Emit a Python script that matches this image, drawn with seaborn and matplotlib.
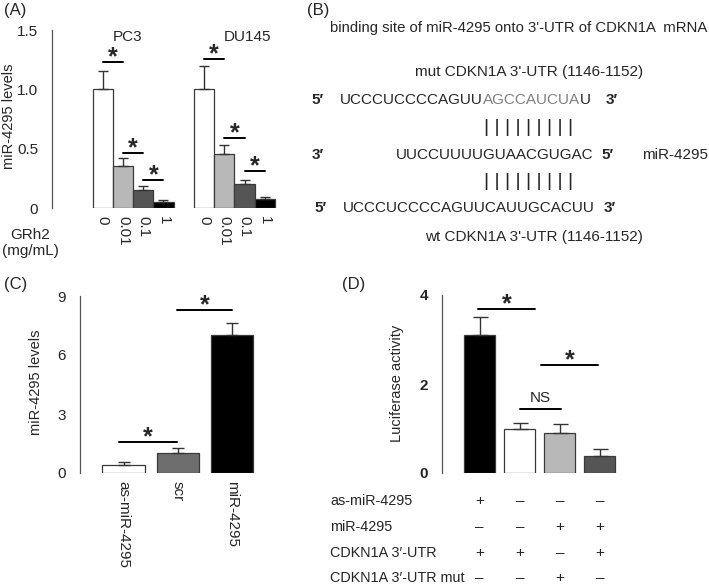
import matplotlib
matplotlib.use("Agg")
import matplotlib.pyplot as plt
import matplotlib.transforms as mtransforms
import numpy as np
import pandas as pd
import seaborn as sns

# ----------------------------------------------
# Data
# ----------------------------------------------

# (A) miR-4295 levels after GRh2 treatment
a_doses = ["0", "0.01", "0.1", "1"]
a_pc3 = [1.0, 0.355, 0.152, 0.05]
a_pc3_err = [0.154, 0.065, 0.03, 0.017]
a_du145 = [1.0, 0.455, 0.20, 0.078]
a_du145_err = [0.20, 0.075, 0.036, 0.017]
a_colors = {"0": "white", "0.01": "#b8b8b8", "0.1": "#555555", "1": "black"}
# significance brackets (x1, x2, y)
a_sig = [(0, 1, 1.23), (1, 2, 0.46), (2, 3, 0.236),
         (5, 6, 1.255), (6, 7, 0.59), (7, 8, 0.31)]

# (C) miR-4295 levels after transfection
c_groups = ["as-miR-4295", "scr", "miR-4295"]
c_vals = [0.42, 1.0, 7.04]
c_err = [0.12, 0.25, 0.59]
c_colors = {"as-miR-4295": "white", "scr": "#6e6e6e", "miR-4295": "black"}
c_sig = [(-0.08, 0.99, 1.59), (0.99, 2.0, 8.3)]

# (D) luciferase activity
d_groups = ["g1", "g2", "g3", "g4"]
d_vals = [3.1, 0.99, 0.89, 0.39]
d_err = [0.41, 0.14, 0.2, 0.14]
d_colors = {"g1": "black", "g2": "white", "g3": "#b8b8b8", "g4": "#555555"}
d_sig = [(-0.04, 1.39, 3.69, "*"), (1.0, 2.04, 1.43, "NS"), (1.54, 2.94, 2.43, "*")]
d_rows = ["as-miR-4295", "miR-4295", "CDKN1A 3′-UTR", "CDKN1A 3′-UTR mut"]
d_signs = [["+", "–", "–", "–"],
           ["–", "–", "+", "+"],
           ["+", "+", "–", "+"],
           ["–", "–", "+", "–"]]

# ----------------------------------------------
# Figure setup
# ----------------------------------------------
sns.set_theme(style="white")
plt.rcParams["font.family"] = ["Liberation Sans", "DejaVu Sans"]

W, H = 709, 584
fig = plt.figure(figsize=(W / 100, H / 100), dpi=100)


def rect(l, t, r, b):
    return [l / W, 1 - b / H, (r - l) / W, (b - t) / H]


# invisible pixel canvas for free text
canvas = fig.add_axes([0, 0, 1, 1])
canvas.set_xlim(0, W)
canvas.set_ylim(H, 0)
canvas.axis("off")

EDGE = "#3a3a3a"
FS = 11


def style(ax, ymax, ticks, labels, bold=False):
    sns.despine(ax=ax, bottom=True)
    ax.spines["left"].set_color("#555555")
    ax.spines["left"].set_linewidth(0.9)
    ax.set_ylim(0, ymax)
    ax.set_yticks(ticks, labels, fontweight="bold" if bold else "normal")
    ax.tick_params(axis="y", length=5, width=0.9, color="#555555", pad=5, labelsize=FS)
    ax.tick_params(axis="x", length=0, pad=6, labelsize=FS)
    ax.set_xlabel("")
    ax.set_ylabel("")


def bracket(ax, x1, x2, y, text="*"):
    ax.plot([x1, x2], [y, y], color="black", lw=1.4, clip_on=False)
    if text == "*":
        ax.annotate(text, xy=((x1 + x2) / 2, y), xytext=(0, -1.5), textcoords="offset points",
                    ha="center", va="baseline", fontsize=18, fontweight="bold")
    else:
        ax.annotate(text, xy=((x1 + x2) / 2, y), xytext=(0, 3), textcoords="offset points",
                    ha="center", va="bottom", fontsize=FS)


# ----------------------------------------------
# (A)
# ----------------------------------------------
ax_a = fig.add_axes(rect(52, 30, 277, 208))
df_a = pd.DataFrame({
    "pos": list(range(4)) + list(range(5, 9)),
    "level": a_pc3 + a_du145,
    "err": a_pc3_err + a_du145_err,
    "dose": a_doses * 2,
})
sns.barplot(data=df_a, x="pos", y="level", hue="dose", palette=a_colors, native_scale=True,
            width=1, dodge=False, errorbar=None, edgecolor=EDGE, linewidth=0.9,
            legend=False, ax=ax_a)
ax_a.errorbar(df_a["pos"], df_a["level"], yerr=[np.zeros(len(df_a)), df_a["err"]],
              fmt="none", ecolor="#333333", elinewidth=1, capsize=3.5, capthick=1)
style(ax_a, 1.5, [0, 0.5, 1.0, 1.5], ["0", "0.5", "1.0", "1.5"])
ax_a.set_xlim(-2.5, 8.6)
ax_a.set_xticks(df_a["pos"], df_a["dose"], rotation=-90)
for x1, x2, y in a_sig:
    bracket(ax_a, x1, x2, y)
ax_a.text(1.24, 1.44, "PC3", ha="center", va="center", fontsize=FS)
ax_a.text(7.15, 1.44, "DU145", ha="center", va="center", fontsize=FS)
canvas.text(9, 116, "miR-4295 levels", rotation=90, ha="center", va="center", fontsize=10.5)
canvas.text(30, 243, "GRh2\n(mg/mL)", ha="center", va="center", fontsize=FS, linespacing=1.25)
canvas.text(4, 10, "(A)", ha="left", va="center", fontsize=12)

# ----------------------------------------------
# (B) sequence alignment
# ----------------------------------------------
canvas.text(307, 10, "(B)", ha="left", va="center", fontsize=12)
canvas.text(330, 28, "binding site of miR-4295 onto 3'-UTR of CDKN1A  mRNA", ha="left",
            va="center", fontsize=10.7)
canvas.text(415, 72, "mut CDKN1A 3'-UTR (1146-1152)", ha="left", va="center", fontsize=FS)

canvas.text(311, 100, "5′", ha="left", va="center", fontsize=FS, fontweight="bold")
t1 = canvas.text(340, 100, "UCCCUCCCCAGUU", ha="left", va="center", fontsize=FS)
t2 = canvas.annotate("AGCCAUCUA", xy=(1, 0.5), xycoords=t1, ha="left", va="center",
                     fontsize=FS, color="#808080")
canvas.annotate("U", xy=(1, 0.5), xycoords=t2, ha="left", va="center", fontsize=FS)
canvas.text(606, 100, "3′", ha="left", va="center", fontsize=FS, fontweight="bold")

canvas.text(484, 128, "| | | | | | | | |", ha="left", va="center", fontsize=14)

canvas.text(312, 155, "3′", ha="left", va="center", fontsize=FS, fontweight="bold")
canvas.text(396, 155, "UUCCUUUUGUAACGUGAC", ha="left", va="center", fontsize=FS)
canvas.text(601, 155, "5′", ha="left", va="center", fontsize=FS, fontweight="bold")
canvas.text(642, 155, "miR-4295", ha="left", va="center", fontsize=FS)

canvas.text(484, 181, "| | | | | | | | |", ha="left", va="center", fontsize=14)

canvas.text(314, 208, "5′", ha="left", va="center", fontsize=FS, fontweight="bold")
canvas.text(343, 208, "UCCCUCCCCAGUUCAUUGCACUU", ha="left", va="center", fontsize=FS)
canvas.text(604, 208, "3′", ha="left", va="center", fontsize=FS, fontweight="bold")
canvas.text(425, 237, "wt CDKN1A 3'-UTR (1146-1152)", ha="left", va="center", fontsize=FS)

# ----------------------------------------------
# (C)
# ----------------------------------------------
ax_c = fig.add_axes(rect(80, 296, 259, 473))
sns.barplot(x=c_groups, y=c_vals, hue=c_groups, palette=c_colors, width=0.78,
            errorbar=None, edgecolor=EDGE, linewidth=0.9, legend=False, ax=ax_c)
ax_c.errorbar(range(len(c_groups)), c_vals, yerr=[np.zeros(len(c_vals)), c_err],
              fmt="none", ecolor="#333333", elinewidth=1, capsize=4.3, capthick=1)
style(ax_c, 9, [0, 3, 6, 9], ["0", "3", "6", "9"])
ax_c.set_xlim(-0.805, 2.5)
ax_c.set_xticks(range(len(c_groups)), c_groups, rotation=-90)
for x1, x2, y in c_sig:
    bracket(ax_c, x1, x2, y)
canvas.text(36, 382, "miR-4295 levels", rotation=90, ha="center", va="center", fontsize=10.5)
canvas.text(4, 285, "(C)", ha="left", va="center", fontsize=12)

# ----------------------------------------------
# (D)
# ----------------------------------------------
ax_d = fig.add_axes(rect(442, 295, 620, 473))
sns.barplot(x=d_groups, y=d_vals, hue=d_groups, palette=d_colors, width=0.775,
            errorbar=None, edgecolor=EDGE, linewidth=0.9, legend=False, ax=ax_d)
ax_d.errorbar(range(len(d_groups)), d_vals, yerr=[np.zeros(len(d_vals)), d_err],
              fmt="none", ecolor="#333333", elinewidth=1, capsize=5.4, capthick=1)
style(ax_d, 4, [0, 2, 4], ["0", "2", "4"], bold=True)
ax_d.set_xlim(-0.94, 3.5)
ax_d.set_xticks([])
for x1, x2, y, txt in d_sig:
    bracket(ax_d, x1, x2, y, txt)
canvas.text(397, 383, "Luciferase activity", rotation=90, ha="center", va="center", fontsize=10.5)
canvas.text(342, 285, "(D)", ha="left", va="center", fontsize=12)

row_base = [505, 531, 557, 582]
mixed = mtransforms.blended_transform_factory(ax_d.transData, canvas.transData)
for label, signs, y in zip(d_rows, d_signs, row_base):
    canvas.text(330, y, label, ha="left", va="baseline", fontsize=10.4)
    for i, s in enumerate(signs):
        canvas.text(i, y, s, transform=mixed, ha="center", va="baseline", fontsize=FS)

fig.savefig("out.png", dpi=100)
